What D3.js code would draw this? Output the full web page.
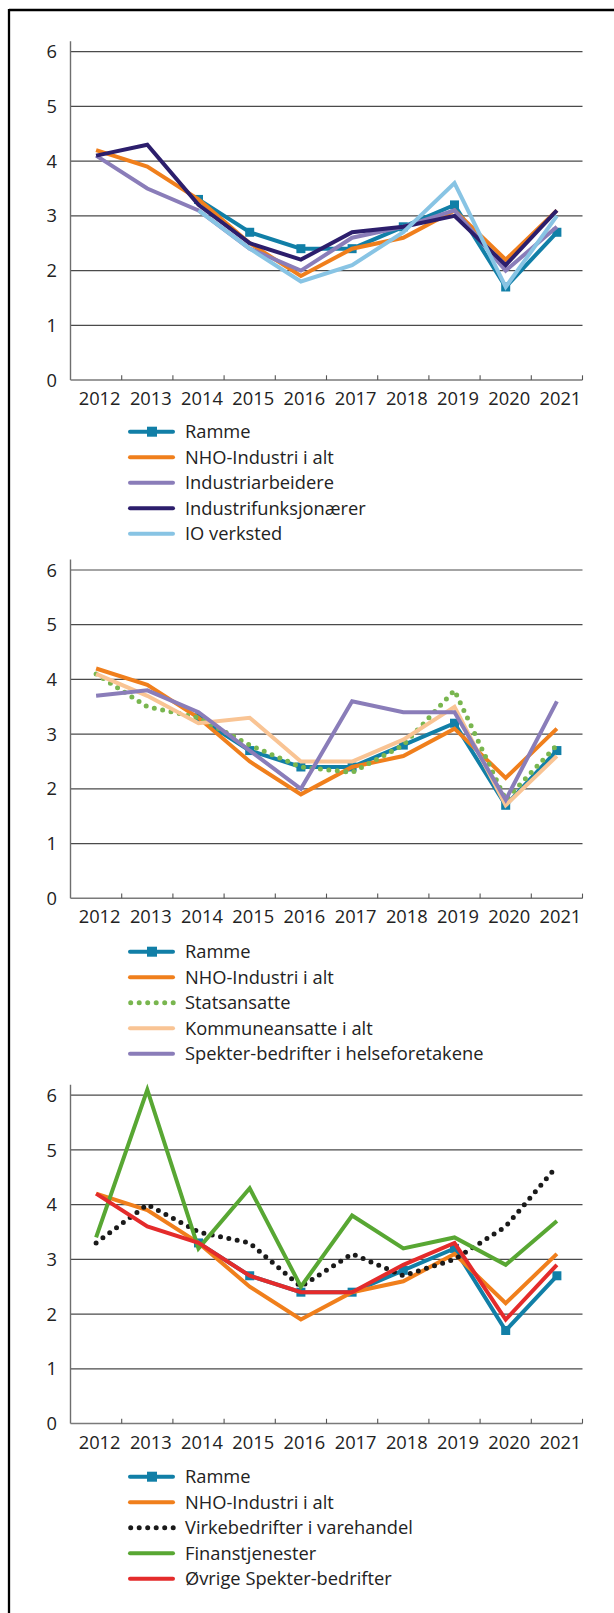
<!DOCTYPE html>
<html>
<head>
<meta charset="utf-8">
<script src="https://cdn.jsdelivr.net/npm/d3@7"></script>
<style>
  body { margin: 0; background: #fff; }
  svg { display: block; font-family: "Open Sans", sans-serif; }
</style>
</head>
<body>
<svg id="chart" width="614" height="1613"></svg>
<script>
// years on the x axis
var years = ["2012", "2013", "2014", "2015", "2016", "2017", "2018", "2019", "2020", "2021"];
var yTicks = [0, 1, 2, 3, 4, 5, 6];

// series shared by all three panels
var ramme = [null, null, 3.3, 2.7, 2.4, 2.4, 2.8, 3.2, 1.7, 2.7];
var nhoIndustri = [4.2, 3.9, 3.3, 2.5, 1.9, 2.4, 2.6, 3.1, 2.2, 3.1];

// panel 1
var industriarbeidere = [4.1, 3.5, 3.1, 2.4, 2.0, 2.6, 2.8, 3.1, 2.0, 2.8];
var industrifunksjonaerer = [4.1, 4.3, 3.2, 2.5, 2.2, 2.7, 2.8, 3.0, 2.1, 3.1];
var ioVerksted = [null, null, 3.1, 2.4, 1.8, 2.1, 2.7, 3.6, 1.7, 3.0];

// panel 2
var statsansatte = [4.1, 3.5, 3.3, 2.8, 2.4, 2.3, 2.8, 3.8, 1.8, 2.8];
var kommuneansatte = [4.1, 3.7, 3.2, 3.3, 2.5, 2.5, 2.9, 3.5, 1.7, 2.6];
var spekterHelse = [3.7, 3.8, 3.4, 2.7, 2.0, 3.6, 3.4, 3.4, 1.8, 3.6];

// panel 3
var virkeVarehandel = [3.3, 4.0, 3.5, 3.3, 2.5, 3.1, 2.7, 3.0, 3.6, 4.7];
var finanstjenester = [3.4, 6.1, 3.2, 4.3, 2.5, 3.8, 3.2, 3.4, 2.9, 3.7];
var ovrigeSpekter = [4.2, 3.6, 3.3, 2.7, 2.4, 2.4, 2.9, 3.3, 1.9, 2.9];

var panels = [
  { y0: 380, legendY: 431.7, series: [
    { name: "Ramme", values: ramme, color: "#117fa7", marker: true },
    { name: "NHO-Industri i alt", values: nhoIndustri, color: "#f07f1c" },
    { name: "Industriarbeidere", values: industriarbeidere, color: "#8a7db9" },
    { name: "Industrifunksjonærer", values: industrifunksjonaerer, color: "#2c1e6c" },
    { name: "IO verksted", values: ioVerksted, color: "#88c4e4" }
  ]},
  { y0: 898.3, legendY: 951.7, series: [
    { name: "Ramme", values: ramme, color: "#117fa7", marker: true },
    { name: "NHO-Industri i alt", values: nhoIndustri, color: "#f07f1c" },
    { name: "Statsansatte", values: statsansatte, color: "#79b64f", dotted: true },
    { name: "Kommuneansatte i alt", values: kommuneansatte, color: "#f9c494" },
    { name: "Spekter-bedrifter i helseforetakene", values: spekterHelse, color: "#8a7db9" }
  ]},
  { y0: 1423.5, legendY: 1476.7, series: [
    { name: "Ramme", values: ramme, color: "#117fa7", marker: true },
    { name: "NHO-Industri i alt", values: nhoIndustri, color: "#f07f1c" },
    { name: "Virkebedrifter i varehandel", values: virkeVarehandel, color: "#1a1a1a", dotted: true },
    { name: "Finanstjenester", values: finanstjenester, color: "#58a733" },
    { name: "Øvrige Spekter-bedrifter", values: ovrigeSpekter, color: "#e42b2b" }
  ]}
];

var svg = d3.select("#chart");

// frame: top and left only
svg.append("line").attr("x1", 9).attr("y1", 10).attr("x2", 614).attr("y2", 10)
  .attr("stroke", "#000").attr("stroke-width", 2.3);
svg.append("line").attr("x1", 9).attr("y1", 9).attr("x2", 9).attr("y2", 1613)
  .attr("stroke", "#000").attr("stroke-width", 2.3);

var x = d3.scaleBand().domain(years).range([70.5, 582.5]).padding(0);

function drawPanel(p) {
  var y = d3.scaleLinear().domain([0, 6]).range([p.y0, p.y0 - 328.3]);
  var g = svg.append("g");

  // gridlines
  g.selectAll(".grid").data(yTicks.filter(function(d) { return d > 0; }))
    .enter().append("line")
    .attr("x1", x.range()[0]).attr("x2", x.range()[1])
    .attr("y1", function(d) { return y(d); }).attr("y2", function(d) { return y(d); })
    .attr("stroke", "#4a4a4a").attr("stroke-width", 1.2);

  // y axis line
  g.append("line").attr("x1", x.range()[0]).attr("x2", x.range()[0])
    .attr("y1", y(6) - 10.5).attr("y2", y(0))
    .attr("stroke", "#6e6e6e").attr("stroke-width", 1.4);

  // y tick labels
  g.selectAll(".ylab").data(yTicks).enter().append("text")
    .attr("x", 57).attr("y", function(d) { return y(d); })
    .attr("dy", "0.36em").attr("text-anchor", "end")
    .attr("font-size", 18.3).attr("fill", "#222")
    .text(function(d) { return d; });

  // x axis line and ticks at band edges
  g.append("line").attr("x1", x.range()[0]).attr("x2", x.range()[1])
    .attr("y1", y(0)).attr("y2", y(0))
    .attr("stroke", "#7a7a7a").attr("stroke-width", 1.6);
  g.selectAll(".xtick").data(years).enter().append("line")
    .attr("x1", function(d) { return x(d) + x.bandwidth(); })
    .attr("x2", function(d) { return x(d) + x.bandwidth(); })
    .attr("y1", y(0)).attr("y2", y(0) - 4.7)
    .attr("stroke", "#555").attr("stroke-width", 1.1);

  g.selectAll(".xlab").data(years).enter().append("text")
    .attr("x", function(d) { return x(d) + x.bandwidth() / 2 + 3.5; })
    .attr("y", y(0) + 25)
    .attr("text-anchor", "middle")
    .attr("font-size", 18.3).attr("fill", "#222")
    .text(function(d) { return d; });

  var line = d3.line()
    .defined(function(d) { return d != null; })
    .x(function(d, i) { return x(years[i]) + x.bandwidth() / 2; })
    .y(function(d) { return y(d); });

  p.series.forEach(function(s) {
    var path = g.append("path").datum(s.values)
      .attr("d", line)
      .attr("fill", "none")
      .attr("stroke", s.color)
      .attr("stroke-linejoin", "miter");
    if (s.dotted) {
      path.attr("stroke-width", 5).attr("stroke-dasharray", "0,8.5").attr("stroke-linecap", "round");
    } else {
      path.attr("stroke-width", 4);
    }
    if (s.marker) {
      g.selectAll(".mk").data(s.values.map(function(v, i) { return { v: v, i: i }; })
          .filter(function(d) { return d.v != null; }))
        .enter().append("rect")
        .attr("x", function(d) { return x(years[d.i]) + x.bandwidth() / 2 - 4.5; })
        .attr("y", function(d) { return y(d.v) - 4.5; })
        .attr("width", 9).attr("height", 9)
        .attr("fill", s.color);
    }
  });

  // legend
  p.series.forEach(function(s, i) {
    var ly = p.legendY + i * 25.5;
    if (s.dotted) {
      g.append("line").attr("x1", 130.7).attr("x2", 173.5).attr("y1", ly).attr("y2", ly)
        .attr("stroke", s.color).attr("stroke-width", 5)
        .attr("stroke-dasharray", "0,8.5").attr("stroke-linecap", "round");
    } else {
      g.append("line").attr("x1", 130).attr("x2", 173).attr("y1", ly).attr("y2", ly)
        .attr("stroke", s.color).attr("stroke-width", 4).attr("stroke-linecap", "round");
    }
    if (s.marker) {
      g.append("rect").attr("x", 147).attr("y", ly - 5).attr("width", 10).attr("height", 10)
        .attr("fill", s.color);
    }
    g.append("text").attr("x", 185).attr("y", ly).attr("dy", "0.35em")
      .attr("font-size", 18.3).attr("fill", "#222")
      .text(s.name);
  });
}

panels.forEach(drawPanel);
</script>
</body>
</html>
